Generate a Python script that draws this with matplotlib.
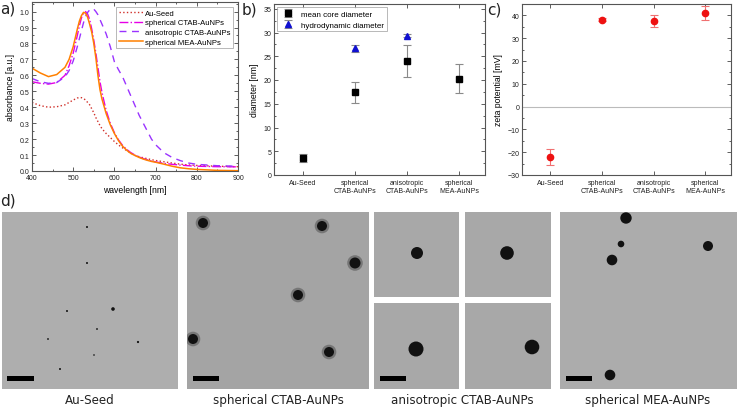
import numpy as np
from matplotlib import pyplot as plt
from matplotlib.patches import Circle, Rectangle
from matplotlib.ticker import MultipleLocator

# ---- panel a: UV-vis spectra
wavelength = [400, 420, 440, 460, 480, 490, 500, 510, 515, 520, 525, 530, 535, 540, 545,
              550, 555, 560, 565, 570, 580, 590, 600, 610, 620, 630, 640, 650, 660, 670,
              680, 690, 700, 720, 740, 760, 780, 800, 850, 900]
abs_seed = [0.43, 0.41, 0.40, 0.403, 0.415, 0.43, 0.445, 0.458, 0.46, 0.46, 0.455, 0.445, 0.43,
            0.415, 0.39, 0.365, 0.335, 0.31, 0.285, 0.265, 0.235, 0.21, 0.185, 0.163, 0.145,
            0.128, 0.113, 0.098, 0.09, 0.083, 0.077, 0.071, 0.066, 0.058, 0.05, 0.043, 0.038,
            0.035, 0.03, 0.027]
abs_sph_ctab = [0.56, 0.55, 0.545, 0.555, 0.60, 0.66, 0.74, 0.85, 0.91, 0.96, 0.99, 1.0, 0.985,
                0.95, 0.89, 0.82, 0.74, 0.65, 0.56, 0.49, 0.38, 0.30, 0.24, 0.195, 0.16, 0.135,
                0.115, 0.10, 0.088, 0.078, 0.07, 0.063, 0.057, 0.048, 0.042, 0.037, 0.033,
                0.03, 0.027, 0.026]
abs_aniso = [0.58, 0.56, 0.55, 0.555, 0.59, 0.63, 0.69, 0.78, 0.83, 0.88, 0.93, 0.97, 0.995,
             1.01, 1.02, 1.015, 1.0, 0.98, 0.95, 0.92, 0.86, 0.78, 0.685, 0.635, 0.59, 0.53,
             0.47, 0.41, 0.35, 0.30, 0.25, 0.20, 0.165, 0.115, 0.085, 0.065, 0.05, 0.042,
             0.033, 0.03]
abs_mea = [0.645, 0.615, 0.592, 0.605, 0.65, 0.70, 0.78, 0.89, 0.94, 0.975, 0.995, 0.99, 0.965,
           0.92, 0.87, 0.80, 0.71, 0.60, 0.51, 0.45, 0.36, 0.29, 0.235, 0.19, 0.155, 0.13,
           0.11, 0.097, 0.085, 0.075, 0.067, 0.06, 0.055, 0.043, 0.03, 0.02, 0.014, 0.01,
           0.004, 0.002]

# ---- panels b and c
samples = ["Au-Seed", "spherical\nCTAB-AuNPs", "anisotropic\nCTAB-AuNPs", "spherical\nMEA-AuNPs"]
core_diam = [3.6, 17.4, 24.0, 20.3]
core_err = [0.85, 2.2, 3.3, 3.1]
hydro_pos = [2, 3]
hydro_diam = [26.7, 29.3]
hydro_err = [0.7, 0.3]
zeta = [-22.2, 38.1, 37.6, 41.1]
zeta_err = [3.4, 0.6, 2.6, 3.0]

# ---- panel d: TEM particles (image pixel coords x, y, radius)
seed_dots = [(85, 15, 1.0), (85, 51, 1.0), (111, 97, 1.8), (65, 99, 1.0), (95, 117, 0.9),
             (46, 127, 0.9), (136, 130, 1.1), (92, 143, 0.8), (58, 157, 1.0)]
ctab_particles = [(16, 11, 5), (135, 14, 5), (168, 51, 5.5), (111, 83, 5), (6, 127, 5),
                  (142, 140, 5)]
aniso_particles = [(43, 41, 6), (42, 41, 6.8), (42, 46, 7.5), (67, 44, 7.3)]
mea_particles = [(66, 6, 5.7), (61, 32, 3.3), (52, 48, 5.3), (148, 34, 5), (50, 163, 5.3)]
captions = ["Au-Seed", "spherical CTAB-AuNPs", "anisotropic CTAB-AuNPs", "spherical MEA-AuNPs"]

W, H = 738, 410
fig = plt.figure(figsize=(W / 100, H / 100), dpi=100)
plt.rcParams["font.family"] = ["Liberation Sans", "DejaVu Sans"]

TICK_FS = 5.0
LABEL_FS = 6.2


def px(left, top, right, bottom):
    return [left / W, 1 - bottom / H, (right - left) / W, (bottom - top) / H]


def origin_style(ax):
    ax.tick_params(which="both", direction="in", top=True, right=True, labelsize=TICK_FS,
                   width=0.6, colors="#444444", labelcolor="#222222", pad=2)
    ax.tick_params(which="major", length=2.8)
    ax.tick_params(which="minor", length=1.6)
    for s in ax.spines.values():
        s.set_linewidth(0.8)
        s.set_color("#555555")


# a)
ax = fig.add_axes(px(32, 3, 238, 172))
ax.plot(wavelength, abs_seed, ":", color="#d0302a", lw=1.0, label="Au-Seed")
ax.plot(wavelength, abs_sph_ctab, "-.", color="#e600e6", lw=1.0, label="spherical CTAB-AuNPs")
ax.plot(wavelength, abs_aniso, "--", color="#9a33ff", lw=1.0, dashes=(5, 4),
        label="anisotropic CTAB-AuNPs")
ax.plot(wavelength, abs_mea, "-", color="#ff8000", lw=1.1, label="spherical MEA-AuNPs")
ax.set_xlim(400, 900)
ax.set_ylim(0, 1.06)
ax.xaxis.set_major_locator(MultipleLocator(100))
ax.xaxis.set_minor_locator(MultipleLocator(50))
ax.yaxis.set_major_locator(MultipleLocator(0.1))
ax.yaxis.set_minor_locator(MultipleLocator(0.05))
ax.set_xlabel("wavelength [nm]", fontsize=LABEL_FS, labelpad=3)
ax.set_ylabel("absorbance [a.u.]", fontsize=LABEL_FS, labelpad=3)
origin_style(ax)
leg = ax.legend(loc="upper right", fontsize=5.5, frameon=True, fancybox=False,
                borderpad=0.35, labelspacing=0.3, handlelength=3.2, handletextpad=0.3,
                borderaxespad=0.6)
leg.get_frame().set_linewidth(0.6)
leg.get_frame().set_edgecolor("#999999")

# b)
xpos = np.arange(1, len(samples) + 1)
ax = fig.add_axes(px(274, 5, 485, 176))
ax.errorbar(xpos, core_diam, yerr=core_err, fmt="s", color="black", ms=4,
            ecolor="#8a8a8a", elinewidth=0.8, capsize=3, capthick=0.8,
            label="mean core diameter")
ax.errorbar(hydro_pos, hydro_diam, yerr=hydro_err, fmt="^", color="#1010d0", ms=4.5,
            ecolor="#8a8a8a", elinewidth=0.8, capsize=3, capthick=0.8,
            label="hydrodynamic diameter")
ax.set_xlim(0.45, 4.5)
ax.set_ylim(0, 36)
ax.set_xticks(xpos)
ax.set_xticklabels(samples)
ax.yaxis.set_major_locator(MultipleLocator(5))
ax.yaxis.set_minor_locator(MultipleLocator(2.5))
ax.set_ylabel("diameter [nm]", fontsize=LABEL_FS, labelpad=3)
origin_style(ax)
ax.tick_params(axis="x", which="minor", top=False, bottom=False)
ax.tick_params(axis="x", pad=3)
leg = ax.legend(loc="upper left", fontsize=5.8, frameon=True, fancybox=False,
                borderpad=0.35, labelspacing=0.4, handletextpad=0.6, borderaxespad=0.4)
leg.get_frame().set_linewidth(0.6)
leg.get_frame().set_edgecolor("#999999")

# c)
ax = fig.add_axes(px(522, 5, 731, 176))
ax.axhline(0, color="#bbbbbb", lw=0.8)
ax.errorbar(xpos, zeta, yerr=zeta_err, fmt="o", color="#ee1111", ms=4.5,
            ecolor="#f07070", elinewidth=0.8, capsize=3, capthick=0.8)
ax.set_xlim(0.45, 4.5)
ax.set_ylim(-30, 45)
ax.set_xticks(xpos)
ax.set_xticklabels(samples)
ax.yaxis.set_major_locator(MultipleLocator(10))
ax.yaxis.set_minor_locator(MultipleLocator(5))
ax.set_ylabel("zeta potential [mV]", fontsize=LABEL_FS, labelpad=3)
origin_style(ax)
ax.tick_params(axis="x", which="minor", top=False, bottom=False)
ax.tick_params(axis="x", pad=3)

# d) TEM images
def tem(box, bg, particles, halo=False, bar=True):
    left, top, right, bottom = box
    a = fig.add_axes(px(*box))
    w, h = right - left, bottom - top
    a.set_xlim(0, w)
    a.set_ylim(h, 0)
    a.set_facecolor(bg)
    a.set_xticks([])
    a.set_yticks([])
    for s in a.spines.values():
        s.set_visible(False)
    for x, y, r in particles:
        if halo:
            a.add_patch(Circle((x, y), r + 2.3, color="#767676", lw=0))
        a.add_patch(Circle((x, y), r, color="#111111", lw=0))
    if bar:
        a.add_patch(Rectangle((5.5, h - 13), 26.7, 5.3, color="black", lw=0))
    return a


tem((2, 213, 178, 390), "#aeaeae", seed_dots)
tem((187, 213, 369, 390), "#a4a4a4", ctab_particles, halo=True)
tem((374, 213, 459, 298), "#a8a8a8", aniso_particles[:1], bar=False)
tem((465, 213, 551, 298), "#a8a8a8", aniso_particles[1:2], bar=False)
tem((374, 304, 459, 390), "#a8a8a8", aniso_particles[2:3])
tem((465, 304, 551, 390), "#a8a8a8", aniso_particles[3:], bar=False)
tem((560, 213, 737, 390), "#acacac", mea_particles)

for cx, txt in zip([90, 278, 462, 648], captions):
    fig.text(cx / W, 1 - 401 / H, txt, ha="center", va="center", fontsize=8.6,
             family="DejaVu Sans", color="#222222")

# panel letters
for x, y, t in [(0, 9, "a)"), (242, 10, "b)"), (487, 10, "c)"), (0, 201, "d)")]:
    fig.text(x / W, 1 - y / H, t, ha="left", va="center", fontsize=11,
             family="DejaVu Sans", color="#222222")

fig.savefig("out.png", dpi=100)
